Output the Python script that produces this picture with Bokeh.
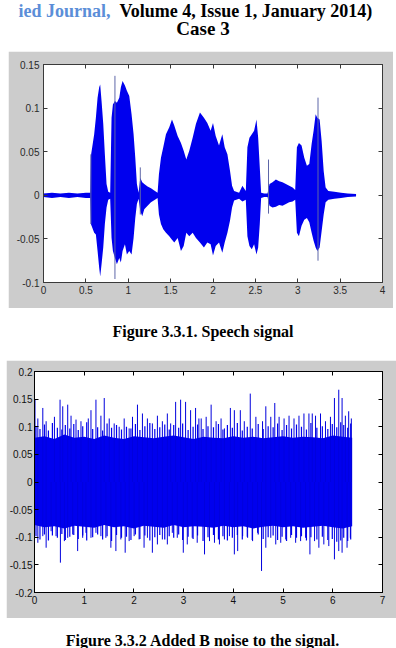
from bokeh.plotting import figure
from bokeh.models import Range1d, LinearAxis, FixedTicker, CustomJSTickFormatter, Label
from bokeh.embed import file_html
from bokeh.resources import INLINE

# ---------------- data: Figure 3.3.1 speech signal (x in units of 1e4 samples) -------------
speech_x = [0, 0.1, 0.2, 0.3, 0.4, 0.5, 0.551,
            0.559, 0.598, 0.618, 0.638, 0.657, 0.669, 0.685, 0.705, 0.724, 0.744,
            0.764, 0.787, 0.803, 0.819, 0.843, 0.866, 0.894, 0.913, 0.933, 0.961,
            0.984, 1.012, 1.039, 1.063, 1.083, 1.102, 1.122, 1.142, 1.165, 1.189,
            1.228, 1.268, 1.315, 1.346, 1.362, 1.386, 1.413, 1.445, 1.484, 1.516,
            1.543, 1.583, 1.622, 1.654, 1.685, 1.72, 1.76, 1.799, 1.846, 1.893,
            1.933, 1.972, 2.0, 2.032, 2.071, 2.11, 2.138, 2.17, 2.201, 2.225,
            2.249, 2.308, 2.347, 2.387, 2.406, 2.43, 2.458, 2.485, 2.513, 2.533,
            2.552, 2.568, 2.604, 2.643, 2.667, 2.702, 2.742, 2.781, 2.82, 2.86,
            2.899, 2.939, 2.97, 2.99, 3.014, 3.045, 3.077, 3.108, 3.136, 3.164,
            3.187, 3.211, 3.231, 3.258, 3.282, 3.306, 3.329, 3.361, 3.432, 3.511,
            3.59, 3.688]
speech_top = [0.002, 0.003, 0.002, 0.003, 0.002, 0.003, 0.003,
              0.045, 0.070, 0.089, 0.112, 0.124, 0.127, 0.108, 0.082, 0.047, 0.013,
              0.004, 0.003, 0.089, 0.104, 0.108, 0.106, 0.112, 0.124, 0.131, 0.126,
              0.120, 0.114, 0.093, 0.070, 0.043, 0.013, 0.003, 0.020, 0.015, 0.013,
              0.010, 0.008, 0.005, 0.003, 0.024, 0.043, 0.055, 0.070, 0.078, 0.087,
              0.080, 0.068, 0.060, 0.051, 0.041, 0.051, 0.066, 0.082, 0.095, 0.089,
              0.083, 0.074, 0.083, 0.068, 0.057, 0.070, 0.055, 0.047, 0.028, 0.011,
              0.005, 0.003, 0.011, 0.005, 0.055, 0.066, 0.070, 0.074, 0.087, 0.066,
              0.032, 0.003, 0.002, 0.002, 0.013, 0.015, 0.018, 0.016, 0.015, 0.013,
              0.011, 0.009, 0.006, 0.055, 0.060, 0.057, 0.043, 0.034, 0.036, 0.059,
              0.074, 0.093, 0.089, 0.087, 0.062, 0.028, 0.009, 0.005, 0.004, 0.003,
              0.002, 0.0015]
speech_bot = [-0.002, -0.003, -0.002, -0.003, -0.002, -0.003, -0.003,
              -0.033, -0.043, -0.045, -0.064, -0.083, -0.093, -0.079, -0.060, -0.033, -0.014,
              -0.005, -0.004, -0.049, -0.064, -0.072, -0.079, -0.072, -0.077, -0.064, -0.056,
              -0.068, -0.064, -0.068, -0.049, -0.026, -0.010, -0.004, -0.018, -0.024, -0.016,
              -0.012, -0.008, -0.005, -0.003, -0.022, -0.033, -0.039, -0.043, -0.047, -0.051,
              -0.054, -0.049, -0.064, -0.058, -0.043, -0.047, -0.043, -0.049, -0.054, -0.060,
              -0.054, -0.056, -0.069, -0.058, -0.054, -0.066, -0.054, -0.043, -0.029, -0.014,
              -0.006, -0.004, -0.007, -0.005, -0.047, -0.058, -0.062, -0.056, -0.068, -0.060,
              -0.033, -0.003, -0.002, -0.002, -0.012, -0.014, -0.013, -0.011, -0.012, -0.010,
              -0.008, -0.007, -0.005, -0.043, -0.047, -0.035, -0.028, -0.026, -0.031, -0.043,
              -0.052, -0.060, -0.064, -0.060, -0.041, -0.022, -0.008, -0.005, -0.004, -0.003,
              -0.002, -0.0015]
# isolated sharp peaks (thin grey-blue strokes)
peak_x = [0.559, 0.843, 1.142, 2.655, 3.239]
peak_top = [0.047, 0.137, 0.032, 0.041, 0.112]
peak_bot = [-0.033, -0.096, -0.022, -0.021, -0.075]

x1_ticks = [0, 0.5, 1, 1.5, 2, 2.5, 3, 3.5, 4]
y1_ticks = [-0.1, -0.05, 0, 0.05, 0.1, 0.15]

# ---------------- data: Figure 3.3.2 noisy signal (x in units of 1e4 samples) -------------
core_x = [0, 0.2, 0.4, 0.6, 0.8, 1.0, 1.2, 1.4, 1.6, 1.8, 2.0, 2.2, 2.4, 2.6, 2.8, 3.0,
          3.2, 3.4, 3.6, 3.8, 4.0, 4.2, 4.4, 4.6, 4.8, 5.0, 5.2, 5.4, 5.6, 5.8, 6.0, 6.2, 6.39]
core_top = [0.080, 0.083, 0.078, 0.086, 0.080, 0.082, 0.078, 0.084, 0.080, 0.078, 0.083,
            0.081, 0.079, 0.082, 0.084, 0.081, 0.078, 0.082, 0.080, 0.079, 0.083, 0.080,
            0.082, 0.079, 0.081, 0.083, 0.080, 0.082, 0.081, 0.079, 0.084, 0.082, 0.080]
core_bot = [-0.078, -0.082, -0.080, -0.084, -0.079, -0.081, -0.083, -0.078, -0.082, -0.080,
            -0.084, -0.079, -0.081, -0.083, -0.078, -0.082, -0.080, -0.081, -0.083, -0.079,
            -0.082, -0.080, -0.084, -0.081, -0.079, -0.082, -0.080, -0.083, -0.081, -0.079,
            -0.082, -0.084, -0.080]

mid_x = [0.03, 0.11, 0.20, 0.28, 0.36, 0.46, 0.55, 0.62, 0.71, 0.79,
         0.88, 0.97, 1.05, 1.17, 1.27, 1.37, 1.46, 1.55, 1.65, 1.75,
         1.85, 1.94, 2.03, 2.12, 2.22, 2.32, 2.42, 2.52, 2.62, 2.71,
         2.80, 2.90, 2.98, 3.09, 3.19, 3.28, 3.39, 3.49, 3.60, 3.70,
         3.79, 3.88, 3.98, 4.08, 4.18, 4.28, 4.38, 4.50, 4.60, 4.70,
         4.80, 4.89, 4.98, 5.07, 5.17, 5.27, 5.37, 5.47, 5.56, 5.68,
         5.79, 5.90, 5.99, 6.08, 6.16, 6.22, 6.30, 6.36]
mid_top = [0.100, 0.096, 0.104, 0.093, 0.107, 0.098, 0.095, 0.103, 0.097, 0.105,
           0.094, 0.101, 0.108, 0.096, 0.099, 0.093, 0.106, 0.098, 0.103, 0.095,
           0.100, 0.097, 0.105, 0.094, 0.101, 0.107, 0.096, 0.099, 0.104, 0.095,
           0.103, 0.098, 0.106, 0.094, 0.100, 0.104, 0.096, 0.101, 0.099, 0.105,
           0.095, 0.103, 0.098, 0.107, 0.093, 0.100, 0.097, 0.105, 0.096, 0.101,
           0.099, 0.106, 0.094, 0.103, 0.097, 0.104, 0.100, 0.095, 0.107, 0.098,
           0.101, 0.096, 0.105, 0.099, 0.108, 0.103, 0.098, 0.106]
mid_bot = [-0.098, -0.104, -0.095, -0.106, -0.097, -0.101, -0.094, -0.105, -0.099, -0.096,
           -0.103, -0.097, -0.106, -0.100, -0.095, -0.104, -0.098, -0.107, -0.096, -0.101,
           -0.099, -0.105, -0.095, -0.103, -0.097, -0.106, -0.100, -0.096, -0.104, -0.098,
           -0.101, -0.095, -0.105, -0.099, -0.103, -0.097, -0.107, -0.100, -0.096, -0.104,
           -0.098, -0.106, -0.101, -0.096, -0.104, -0.099, -0.105, -0.095, -0.103, -0.100,
           -0.097, -0.105, -0.099, -0.107, -0.096, -0.101, -0.098, -0.106, -0.100, -0.104,
           -0.099, -0.105, -0.103, -0.108, -0.106, -0.101, -0.107, -0.104]

up_x = [0.01, 0.067, 0.167, 0.234, 0.401, 0.514, 0.568, 0.668, 0.735, 0.835,
        0.935, 1.082, 1.136, 1.236, 1.336, 1.403, 1.503, 1.603, 1.703, 1.804,
        1.904, 1.971, 2.071, 2.171, 2.271, 2.371, 2.472, 2.572, 2.672, 2.739,
        2.839, 2.939, 3.039, 3.140, 3.240, 3.307, 3.353, 3.453, 3.553, 3.653,
        3.753, 3.820, 3.940, 4.020, 4.140, 4.220, 4.340, 4.453, 4.587, 4.653,
        4.753, 4.833, 4.920, 5.020, 5.120, 5.220, 5.320, 5.420, 5.520, 5.587,
        5.653, 5.753, 5.853, 5.953, 6.033, 6.120, 6.187, 6.253, 6.320, 6.373]
up_y = [0.150, 0.115, 0.134, 0.110, 0.118, 0.149, 0.137, 0.140, 0.120, 0.113,
        0.110, 0.115, 0.130, 0.149, 0.120, 0.152, 0.115, 0.106, 0.100, 0.115,
        0.097, 0.118, 0.140, 0.124, 0.115, 0.106, 0.120, 0.110, 0.124, 0.106,
        0.145, 0.149, 0.145, 0.130, 0.134, 0.115, 0.115, 0.118, 0.140, 0.110,
        0.115, 0.097, 0.134, 0.130, 0.130, 0.110, 0.160, 0.118, 0.110, 0.137,
        0.118, 0.143, 0.118, 0.115, 0.120, 0.115, 0.120, 0.124, 0.124, 0.124,
        0.120, 0.124, 0.110, 0.118, 0.152, 0.167, 0.152, 0.120, 0.128, 0.115]
dn_x = [0.0, 0.067, 0.167, 0.234, 0.334, 0.434, 0.521, 0.601, 0.668, 0.768,
        0.868, 0.969, 1.035, 1.136, 1.236, 1.336, 1.436, 1.536, 1.637, 1.737,
        1.824, 1.904, 2.004, 2.104, 2.204, 2.271, 2.371, 2.472, 2.572, 2.672,
        2.772, 2.872, 2.993, 3.073, 3.173, 3.273, 3.420, 3.520, 3.620, 3.720,
        3.820, 3.920, 4.020, 4.087, 4.187, 4.287, 4.387, 4.487, 4.567, 4.653,
        4.753, 4.853, 4.953, 5.053, 5.153, 5.253, 5.353, 5.453, 5.540, 5.633,
        5.720, 5.820, 5.920, 6.033, 6.120, 6.187, 6.287, 6.353]
dn_y = [-0.083, -0.110, -0.098, -0.119, -0.089, -0.098, -0.146, -0.107, -0.101, -0.095,
        -0.125, -0.101, -0.092, -0.101, -0.092, -0.098, -0.101, -0.119, -0.125, -0.104,
        -0.128, -0.107, -0.098, -0.104, -0.119, -0.101, -0.128, -0.113, -0.104, -0.113,
        -0.092, -0.101, -0.128, -0.113, -0.101, -0.110, -0.131, -0.107, -0.110, -0.113,
        -0.104, -0.098, -0.131, -0.125, -0.098, -0.101, -0.107, -0.092, -0.161, -0.119,
        -0.101, -0.113, -0.110, -0.104, -0.101, -0.110, -0.107, -0.101, -0.131, -0.107,
        -0.119, -0.113, -0.116, -0.140, -0.125, -0.128, -0.119, -0.101]

x2_ticks = [0, 1, 2, 3, 4, 5, 6, 7]
y2_ticks = [-0.2, -0.15, -0.1, -0.05, 0, 0.05, 0.1, 0.15, 0.2]

# ---------------- text ----------------
header_blue = "ied Journal,"
header_black = "Volume 4, Issue 1, January 2014)"
case_title = "Case 3"
caption1 = "Figure 3.3.1. Speech signal"
caption2 = "Figure 3.3.2 Added B noise to the signal."

SERIF = "Liberation Serif"
SANS = "Liberation Sans"
GRAY = "#cccccc"


def text_fig(h):
    f = figure(width=396, height=h, x_range=Range1d(0, 396), y_range=Range1d(0, h),
               x_axis_type=None, y_axis_type=None, output_backend="svg", title=None,
               toolbar_location=None, min_border=0, min_border_left=0, min_border_right=0,
               min_border_top=0, min_border_bottom=0, background_fill_color="white",
               border_fill_color="white")
    f.outline_line_color = None
    f.grid.visible = False
    return f


def label(f, x, y, text, size, color="black", align="center"):
    f.add_layout(Label(x=x, y=y, text=text, text_font=SERIF, text_font_style="bold",
                       text_font_size=size, text_color=color, text_align=align,
                       text_baseline="alphabetic"))


def style_axes(p, xt, yt, axis_color, label_color, ystand, xstand):
    fmt = "return tick.toString();"
    p.xaxis.ticker = FixedTicker(ticks=xt)
    p.yaxis.ticker = FixedTicker(ticks=yt)
    for ax, st in ((p.xaxis, xstand), (p.yaxis, ystand)):
        ax.formatter = CustomJSTickFormatter(code=fmt)
        ax.major_tick_in = 4
        ax.major_tick_out = 0
        ax.minor_tick_line_color = None
        ax.axis_line_color = axis_color
        ax.major_tick_line_color = axis_color
        ax.major_label_text_font = SANS
        ax.major_label_text_font_size = "10px"
        ax.major_label_text_color = label_color
        ax.major_label_standoff = st
    for loc, tk in (("above", xt), ("right", yt)):
        ax = LinearAxis(ticker=FixedTicker(ticks=tk),
                        formatter=CustomJSTickFormatter(code="return '';"),
                        major_tick_in=4, major_tick_out=0, minor_tick_line_color=None,
                        major_label_text_font_size="0px", major_label_standoff=0,
                        axis_line_color=axis_color, major_tick_line_color=axis_color)
        p.add_layout(ax, loc)
    p.grid.visible = False
    p.outline_line_color = axis_color


def small(p, x, y, text, size, color, align):
    p.add_layout(Label(x=x, y=y, text=text, text_font=SANS, text_font_size=size,
                       text_color=color, text_align=align, text_baseline="bottom"))


# header + "Case 3"
hdr = text_fig(51)
label(hdr, 110, 41, header_blue, "18px", color="#5b8ed8", align="right")
label(hdr, 119, 41, header_black, "18px", align="left")
label(hdr, 202.5, 23, case_title, "19px")

# plot 1
p1 = figure(width=385, height=257, x_range=Range1d(0, 4), y_range=Range1d(-0.1, 0.15),
            output_backend="svg", toolbar_location=None, title=None,
            min_border_left=35, min_border_right=11, min_border_top=13, min_border_bottom=26,
            background_fill_color="white", border_fill_color=GRAY, margin=(0, 3, 0, 8))
p1.varea(x=speech_x, y1=speech_bot, y2=speech_top, fill_color="#0000ee")
p1.segment(x0=peak_x, y0=peak_bot, x1=peak_x, y1=peak_top, line_color="#5d66a8", line_width=1)
style_axes(p1, x1_ticks, y1_ticks, "#3a3a3a", "#2a2a2a", 4, 3)
small(p1, 3.937, -0.1287, "x 10", "10px", "#2a2a2a", "right")
small(p1, 3.95, -0.1218, "4", "7px", "#2a2a2a", "left")

cap1 = text_fig(52)
label(cap1, 202.5, 29, caption1, "16px")

# plot 2
p2 = figure(width=390, height=258, x_range=Range1d(0, 7), y_range=Range1d(-0.2, 0.2),
            output_backend="svg", toolbar_location=None, title=None,
            min_border_left=27, min_border_right=14, min_border_top=11, min_border_bottom=26,
            background_fill_color="white", border_fill_color=GRAY, margin=(0, 0, 0, 6))
p2.varea(x=core_x, y1=core_bot, y2=core_top, fill_color="#0000ee")
p2.segment(x0=mid_x, y0=0, x1=mid_x, y1=mid_top, line_color="#0000ee", line_width=1.2)
p2.segment(x0=mid_x, y0=0, x1=mid_x, y1=mid_bot, line_color="#0000ee", line_width=1.2)
p2.segment(x0=up_x, y0=0, x1=up_x, y1=up_y, line_color="#0000dd", line_width=1)
p2.segment(x0=dn_x, y0=0, x1=dn_x, y1=dn_y, line_color="#0000dd", line_width=1)
style_axes(p2, x2_ticks, y2_ticks, "black", "#111111", 2, 3)
small(p2, 6.85, -0.2458, "x 10", "10px", "#111111", "right")
small(p2, 6.89, -0.235, "4", "7px", "#111111", "left")

cap2 = text_fig(30)
label(cap2, 202.5, 8, caption2, "16px")

# independent roots stacked vertically (avoids column frame alignment)
open("out.html", "w").write(file_html([hdr, p1, cap1, p2, cap2], INLINE))
